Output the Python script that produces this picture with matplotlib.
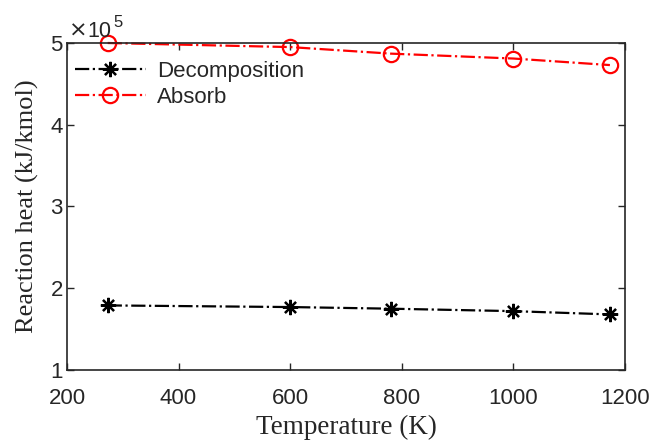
import matplotlib.pyplot as plt

# data (units of 1e5 kJ/kmol)
temperature = [273, 600, 780, 1000, 1173]
decomposition = [1.79, 1.77, 1.75, 1.72, 1.68]
absorb = [5.00, 4.95, 4.87, 4.81, 4.73]

dark = '#262626'

fig = plt.figure(figsize=(6.5, 4.41), dpi=100)
ax = fig.add_axes([0.103, 0.161, 0.8585, 0.7415])

ax.plot(temperature, decomposition, color='k', linestyle='-.', linewidth=1.6,
        marker=(8, 2, 0), markersize=11, markeredgewidth=1.6, label='Decomposition')
ax.plot(temperature, absorb, color='r', linestyle='-.', linewidth=1.6,
        marker='o', markersize=11, markerfacecolor='none', markeredgewidth=1.6,
        label='Absorb', clip_on=False)

ax.set_xlim(200, 1200)
ax.set_ylim(1, 5)
ax.set_xticks([200, 400, 600, 800, 1000, 1200])
ax.set_yticks([1, 2, 3, 4, 5])
ax.tick_params(direction='in', length=5, width=1, top=True, right=True,
               labelsize=16, colors=dark)
ax.tick_params(axis='x', pad=13)
ax.tick_params(axis='y', pad=3)
for lab in ax.get_xticklabels() + ax.get_yticklabels():
    lab.set_family('Liberation Sans')
for sp in ax.spines.values():
    sp.set_linewidth(1.2)
    sp.set_color(dark)

ax.set_xlabel('Temperature (K)', family='Liberation Serif', fontsize=19.5,
              color=dark, labelpad=4)
ax.set_ylabel('Reaction heat (kJ/kmol)', family='Liberation Serif', fontsize=19,
              color=dark, labelpad=8)

# axis multiplier
fig.text(69 / 650, 1 - 37 / 441, '×', family='DejaVu Sans', fontsize=16,
         color=dark, va='baseline', ha='left')
fig.text(87 / 650, 1 - 37 / 441, '10', family='Liberation Sans', fontsize=15.5,
         color=dark, va='baseline', ha='left')
fig.text(113 / 650, 1 - 27 / 441, '5', family='Liberation Sans', fontsize=12,
         color=dark, va='baseline', ha='left')

leg = ax.legend(loc='upper left', bbox_to_anchor=(-0.01, 0.985), frameon=False,
                prop={'family': 'Liberation Sans', 'size': 16}, handlelength=3.2,
                handletextpad=0.5, labelspacing=0.2, borderaxespad=0.2)
for t in leg.get_texts():
    t.set_color(dark)

fig.savefig('out.png', dpi=100)
